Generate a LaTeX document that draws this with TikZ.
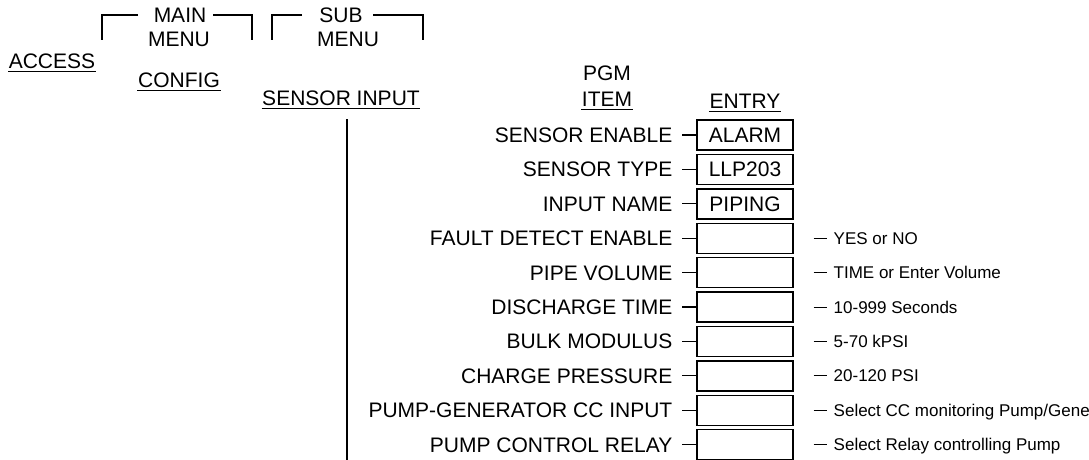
\documentclass[tikz,border=0pt]{standalone}
\usepackage{fontspec}
\setmainfont{Liberation Sans}
\usetikzlibrary{positioning,calc}
\tikzset{
  hdr/.style={inner sep=0pt,text height=15pt,text depth=0pt,font=\fontsize{21}{25}\selectfont},
  prm/.style={hdr,anchor=east},
  entrybox/.style={hdr,draw,minimum width=96pt,minimum height=30pt},
  note/.style={anchor=west,inner sep=0pt,text height=12.2pt,text depth=0pt,font=\fontsize{17}{20}\selectfont}
}
\begin{document}
\begin{tikzpicture}[x=1pt,y=-1pt,line width=1.4pt]
  \useasboundingbox (0,0) rectangle (1089,459);
  \clip (0,0) rectangle (1089,459);
  % menu headings and brackets
  \node[hdr] (mainT) at (180,14.5) {MAIN};
  \node[hdr] (mainM) at (179,39) {MENU};
  \node[hdr] (subT) at (341,14.5) {SUB};
  \node[hdr] (subM) at (348,39) {MENU};
  \draw (138,15) -| (102,40); \draw (213,15) -| (252,40);
  \draw (302,15) -| (272,40); \draw (373,15) -| (423,40);
  \node[hdr] (access) at (52,61) {ACCESS};
  \node[hdr] (config) at (179,80) {CONFIG};
  \node[hdr] (sensor) at (341,98) {SENSOR INPUT};
  \node[hdr] (pgm) at (607,73) {PGM};
  \node[hdr] (itemH) at (607,99) {ITEM};
  \node[hdr] (entryH) at (745,101) {ENTRY};
  \foreach \n in {access,config,sensor,itemH,entryH}
    \draw[line width=1pt] ([yshift=-1.8pt]\n.south west) -- ([yshift=-1.8pt]\n.south east);
  \draw (347,119) -- (347,470);
  % program items and entries
  \foreach \name/\val [count=\i from 0] in {SENSOR ENABLE/ALARM,SENSOR TYPE/LLP203,INPUT NAME/PIPING,
      FAULT DETECT ENABLE/,PIPE VOLUME/,DISCHARGE TIME/,BULK MODULUS/,CHARGE PRESSURE/,
      PUMP-GENERATOR CC INPUT/,PUMP CONTROL RELAY/}
    {\node[prm] (prm\i) at (673,135+34.4*\i) {\name};
     \node[entrybox] (ent\i) at (745,135+34.4*\i) {\val};
     \draw[line width=1.1pt,shorten <=9pt] (prm\i) -- (ent\i);}
  \foreach \i/\txt in {3/YES or NO,4/TIME or Enter Volume,5/10-999 Seconds,6/5-70 kPSI,7/20-120 PSI,
      8/{Select CC monitoring Pump/Generator},9/Select Relay controlling Pump}
    {\node[note] (nt\i) at (833,135+34.4*\i) {\txt};
     \draw[line width=1pt,shorten <=20pt,shorten >=6pt] (ent\i) -- (nt\i);}
\end{tikzpicture}
\end{document}
